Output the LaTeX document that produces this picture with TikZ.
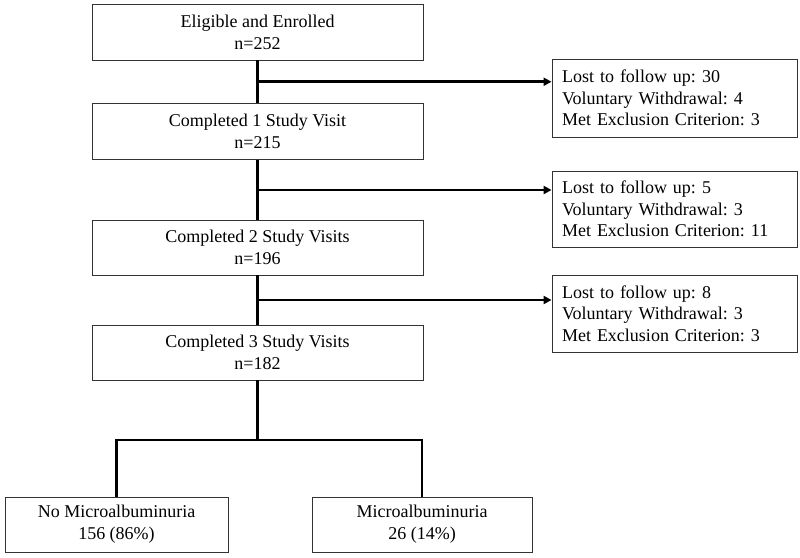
\documentclass[tikz,border=0pt]{standalone}
\usepackage{fontspec}
\setmainfont{Liberation Serif}
\usetikzlibrary{arrows.meta,calc}
\frenchspacing
\begin{document}
\begin{tikzpicture}[x=1pt,y=-1pt,
  box/.style={draw=black!80,line width=0.9pt,fill=white,inner sep=0pt,align=center,
    font=\fontsize{18}{22}\selectfont},
  mainbox/.style={box,minimum width=331pt,minimum height=56pt},
  sidebox/.style={draw=black!80,line width=0.9pt,fill=white,inner xsep=10pt,inner ysep=0pt,
    text width=225pt,align=left,minimum height=77pt,font=\fontsize{18}{21.5}\selectfont},
  endbox/.style={box,minimum height=55pt},
  conn/.style={line width=2.8pt,black,line join=miter},
  arr/.style={conn,-{Triangle[length=8pt,width=8pt]}}]
\useasboundingbox (0,0) rectangle (800,557);
\node[mainbox] (b1) at (257.5,32) {Eligible and Enrolled\\n=252};
\node[mainbox] (b2) at (257.5,131.5) {Completed 1 Study Visit\\n=215};
\node[mainbox,minimum height=55pt] (b3) at (257.5,247.5) {Completed 2 Study Visits\\n=196};
\node[mainbox,minimum height=55pt] (b4) at (257.5,352.5) {Completed 3 Study Visits\\n=182};
\node[sidebox,minimum height=78pt] (s1) at (674.5,98) {Lost to follow up: 30\\Voluntary Withdrawal: 4\\Met Exclusion Criterion: 3};
\node[sidebox,minimum height=76pt] (s2) at (674.5,209) {Lost to follow up: 5\\Voluntary Withdrawal: 3\\Met Exclusion Criterion: 11};
\node[sidebox] (s3) at (674.5,313.5) {Lost to follow up: 8\\Voluntary Withdrawal: 3\\Met Exclusion Criterion: 3};
\node[endbox,minimum width=223pt] (bl) at (116.5,524.5) {No Microalbuminuria\\156 (86\%)};
\node[endbox,minimum width=220pt] (br) at (422,524.5) {Microalbuminuria\\26 (14\%)};
\coordinate (j1) at ($(b1.south)!0.5!(b2.north)$);
\coordinate (j2) at (257.5,190);
\coordinate (j3) at (257.5,300);
\coordinate (j4) at (257.5,440);
\draw[conn] (b1.south) -- (b2.north);
\draw[conn] (b2.south) -- (b3.north);
\draw[conn] (b3.south) -- (b4.north);
\draw[arr] (j1) -- (j1 -| s1.west);
\draw[arr] (j2) -- (j2 -| s2.west);
\draw[arr] (j3) -- (j3 -| s3.west);
\draw[conn] (b4.south) -- (j4);
\draw[conn] (bl.north) |- (j4) -| (br.north);
\end{tikzpicture}
\end{document}
